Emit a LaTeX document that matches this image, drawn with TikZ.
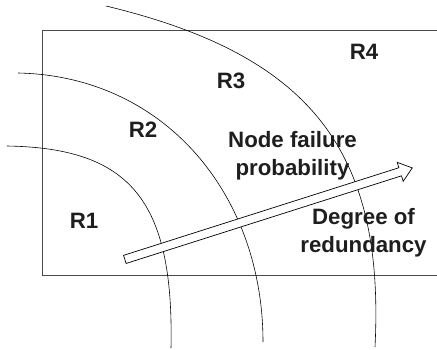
\documentclass[tikz,border=0pt]{standalone}
\usepackage{fontspec}
\setmainfont{Liberation Sans}
\usetikzlibrary{shapes.arrows}
\definecolor{tinta}{HTML}{1E1E1E}
\definecolor{marco}{HTML}{4A4A4A}
\tikzset{
  rotulo/.style={font=\fontsize{19}{24}\selectfont\bfseries, text=tinta, align=center, inner sep=0pt},
  frontera/.style={draw=black, line width=0.5pt},
  borde/.style={draw=marco, line width=0.8pt},
  flecha/.style={single arrow, draw=black, fill=white, line width=0.6pt,
                 inner xsep=0pt, inner ysep=0.117cm,
                 minimum height=9.05cm,
                 single arrow head extend=0.17cm, single arrow tip angle=76}
}
\begin{document}
\begin{tikzpicture}[x=0.3mm, y=0.3mm]
  \useasboundingbox (0,0) rectangle (437,349);
  % frame, open on the right
  \draw [borde] (437,319) -- (42,319) -- (42,74) -- (437,74);
  % region boundaries
  \draw [frontera] (7,203) .. controls (130,201) and (174,149) .. (171,1);
  \draw [frontera] (18,276) .. controls (165,273) and (263,154) .. (263,7);
  \draw [frontera] (106,343) .. controls (310,294) and (385,199) .. (375,2);
  % regions
  \node (r1) [rotulo] at (84,128) {R1};
  \node (r2) [rotulo] at (143,219) {R2};
  \node (r3) [rotulo] at (231,268) {R3};
  \node (r4) [rotulo] at (364,297) {R4};
  % trend
  \node (tendencia) [flecha, anchor=tail, rotate=17.65] at (124.5,89.5) {};
  \node (fallo) [rotulo] at (292.5,193) {Node failure\\probability};
  \node (redund) [rotulo] at (363.5,116) {Degree of\\redundancy};
\end{tikzpicture}
\end{document}
